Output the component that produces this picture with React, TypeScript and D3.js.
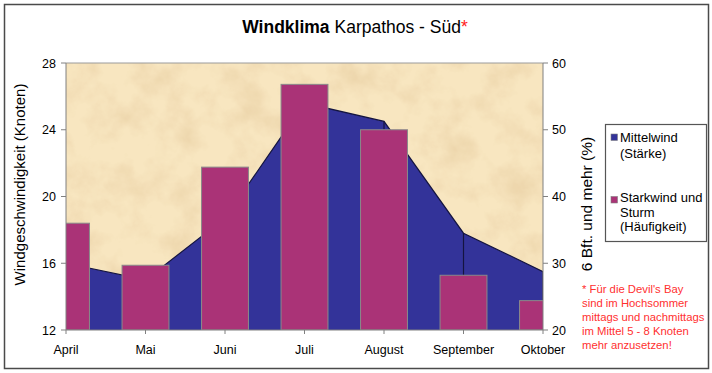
import React from 'react';
import * as d3 from 'd3';

const months = ['April', 'Mai', 'Juni', 'Juli', 'August', 'September', 'Oktober'];
const mittelwind = [16.0, 15.0, 18.7, 25.6, 24.5, 17.8, 15.5];
const starkwind = [36, 29.7, 44.4, 56.8, 50, 28.2, 24.4];
const leftTicks = [12, 16, 20, 24, 28];
const rightTicks = [20, 30, 40, 50, 60];
const noteLines = [
  '* Für die Devil\'s Bay',
  'sind im Hochsommer',
  'mittags und nachmittags',
  'im Mittel 5 - 8 Knoten',
  'mehr anzusetzen!',
];

const W = 712;
const H = 373;
const plot = { left: 66, right: 543, top: 63, bottom: 330 };
const FONT = '"Liberation Sans", Arial, sans-serif';
const AREA = '#333399';
const BAR = '#aa3377';

export default function App() {
  const x = d3.scalePoint<string>().domain(months).range([plot.left, plot.right]).padding(0);
  const yL = d3.scaleLinear().domain([12, 28]).range([plot.bottom, plot.top]);
  const yR = d3.scaleLinear().domain([20, 60]).range([plot.bottom, plot.top]);
  const barW = x.step() * 0.59;

  const areaGen = d3
    .area<number>()
    .x((_, i) => x(months[i])!)
    .y0(plot.bottom)
    .y1((d) => yL(d));
  const lineGen = d3
    .line<number>()
    .x((_, i) => x(months[i])!)
    .y((d) => yL(d));

  return (
    <svg width={W} height={H} style={{ position: 'absolute', left: 0, top: 0 }} fontFamily={FONT}>
      <defs>
        <filter id="parch" x="0" y="0" width="1" height="1">
          <feTurbulence type="fractalNoise" baseFrequency="0.03" numOctaves={5} seed={7} result="noise" />
          <feColorMatrix
            in="noise"
            type="matrix"
            values="0 0 0 0 0.84  0 0 0 0 0.66  0 0 0 0 0.40  2.0 0 0 0 -0.82"
            result="spots"
          />
          <feFlood floodColor="#f8e6c0" result="base" />
          <feComposite in="spots" in2="base" operator="over" />
        </filter>
        <clipPath id="plotClip">
          <rect x={plot.left} y={plot.top} width={plot.right - plot.left} height={plot.bottom - plot.top} />
        </clipPath>
      </defs>

      <rect x={0} y={0} width={W} height={H} fill="#fff" />
      <rect x={4.5} y={4.5} width={704} height={364} fill="none" stroke="#4a4a4a" strokeWidth={1.5} />

      <text x={355} y={33} textAnchor="middle" fontSize={17.5}>
        <tspan fontWeight="bold">Windklima</tspan>
        <tspan> Karpathos - Süd</tspan>
        <tspan fill="#ff2020">*</tspan>
      </text>

      {/* plot background */}
      <rect
        x={plot.left}
        y={plot.top}
        width={plot.right - plot.left}
        height={plot.bottom - plot.top}
        fill="#f3dcae"
        filter="url(#parch)"
      />

      <g clipPath="url(#plotClip)">
        <path d={areaGen(mittelwind)!} fill={AREA} />
        <path d={lineGen(mittelwind)!} fill="none" stroke="#141440" strokeWidth={1.2} />
        {mittelwind.map((d, i) => (
          <line
            key={'drop' + i}
            x1={x(months[i])}
            x2={x(months[i])}
            y1={yL(d)}
            y2={plot.bottom}
            stroke="#141440"
            strokeWidth={1.2}
          />
        ))}
        {starkwind.map((d, i) => (
          <rect
            key={'bar' + i}
            x={x(months[i])! - barW / 2}
            y={yR(d)}
            width={barW}
            height={plot.bottom - yR(d)}
            fill={BAR}
            stroke="#8a8a8a"
            strokeWidth={1}
          />
        ))}
      </g>

      {/* plot frame */}
      <line x1={plot.left} x2={plot.right} y1={plot.top} y2={plot.top} stroke="#9a9a9a" />
      <line x1={plot.left} x2={plot.left} y1={plot.top} y2={plot.bottom} stroke="#808080" />
      <line x1={plot.right} x2={plot.right} y1={plot.top} y2={plot.bottom} stroke="#808080" />
      <line x1={plot.left} x2={plot.right} y1={plot.bottom} y2={plot.bottom} stroke="#808080" />

      {/* left axis */}
      {leftTicks.map((t) => (
        <g key={'l' + t}>
          <line x1={plot.left - 5} x2={plot.left} y1={yL(t)} y2={yL(t)} stroke="#808080" />
          <text x={56} y={yL(t) + 4.5} textAnchor="end" fontSize={12.5}>
            {t}
          </text>
        </g>
      ))}
      <text
        transform={`translate(25,${(plot.top + plot.bottom) / 2 - 12}) rotate(-90)`}
        textAnchor="middle"
        fontSize={15}
      >
        Windgeschwindigkeit (Knoten)
      </text>

      {/* right axis */}
      {rightTicks.map((t) => (
        <g key={'r' + t}>
          <line x1={plot.right} x2={plot.right + 5} y1={yR(t)} y2={yR(t)} stroke="#808080" />
          <text x={552} y={yR(t) + 4.5} textAnchor="start" fontSize={12.5}>
            {t}
          </text>
        </g>
      ))}
      <text transform={`translate(592,204) rotate(-90)`} textAnchor="middle" fontSize={15.5}>
        6 Bft. und mehr (%)
      </text>

      {/* x axis */}
      {months.map((m) => (
        <g key={m}>
          <line x1={x(m)} x2={x(m)} y1={plot.bottom} y2={plot.bottom + 4} stroke="#808080" />
          <text x={x(m)} y={354} textAnchor="middle" fontSize={12.5}>
            {m}
          </text>
        </g>
      ))}

      {/* legend */}
      <rect x={605.5} y={124.5} width={101} height={117} fill="#fff" stroke="#555" strokeWidth={1.2} />
      <rect x={611} y={134} width={6.5} height={6.5} fill={AREA} stroke="#808080" strokeWidth={0.6} />
      <text x={620} y={142} fontSize={13}>
        <tspan x={620}>Mittelwind</tspan>
        <tspan x={620} dy={15.5}>(Stärke)</tspan>
      </text>
      <rect x={611} y={196.5} width={6.5} height={6.5} fill={BAR} stroke="#808080" strokeWidth={0.6} />
      <text x={620} y={202} fontSize={13}>
        <tspan x={620}>Starkwind und</tspan>
        <tspan x={620} dy={14.5}>Sturm</tspan>
        <tspan x={620} dy={14.5}>(Häufigkeit)</tspan>
      </text>

      {/* note */}
      <text fontSize={11.3} fill="#ff3030">
        {noteLines.map((l, i) => (
          <tspan key={i} x={582} y={293 + i * 14}>
            {l}
          </tspan>
        ))}
      </text>
    </svg>
  );
}
